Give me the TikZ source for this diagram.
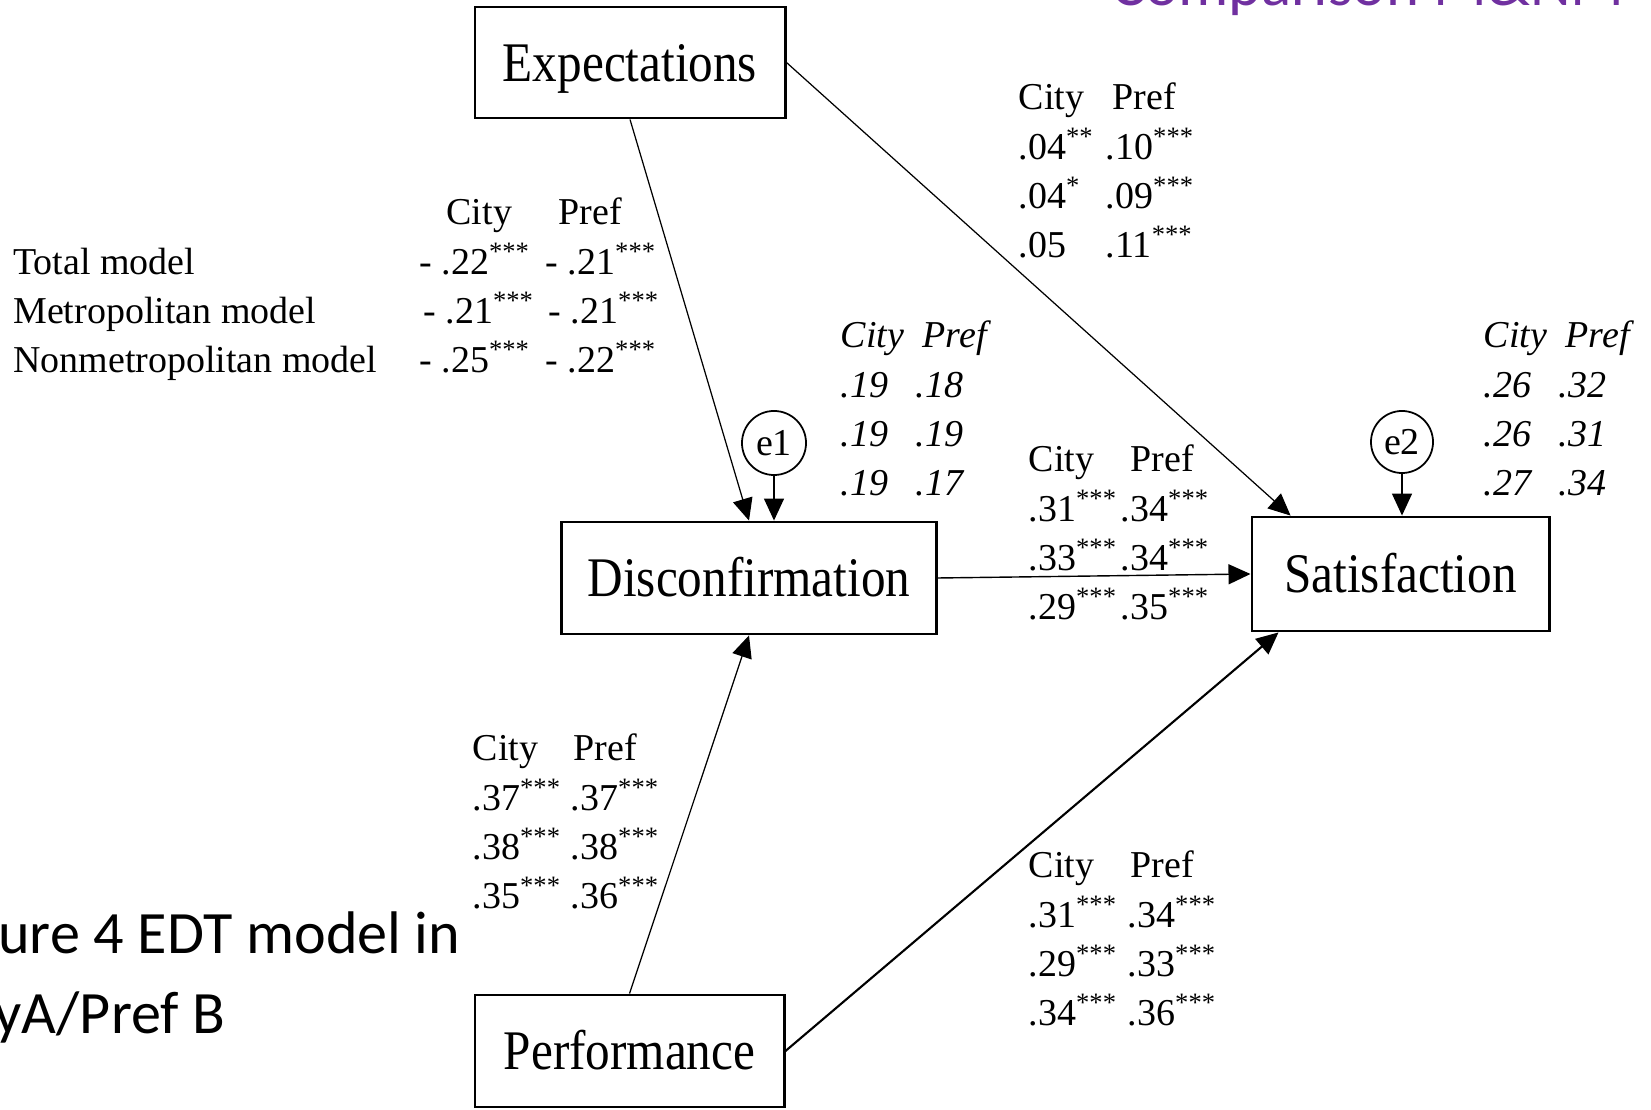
\documentclass[tikz,border=0pt]{standalone}
\usepackage{fontspec}
\setmainfont{Liberation Serif}
\newfontfamily\boxfont{Liberation Serif}[FakeStretch=0.88]
\newfontfamily\slidefont{Carlito}
\usepackage{array}
\usetikzlibrary{arrows.meta}
\definecolor{slidepurple}{HTML}{7030A0}
\newcommand{\lblfont}{\fontsize{10.8}{14}\selectfont}
\newcommand{\sig}[1]{\textsuperscript{#1}}

\begin{document}
\begin{tikzpicture}[
        x=0.01cm, y=-0.01cm,
        var/.style={draw, rectangle, line width=0.8pt, inner sep=0pt,
            text height=10.6pt, text depth=0pt,
            font=\boxfont\fontsize{15.9}{19}\selectfont},
        err/.style={draw, circle, line width=0.5pt, inner sep=0pt, font=\lblfont},
        arr/.style={-{Triangle[length=2.2mm, width=2mm]}, line width=0.4pt},
        coef/.style={anchor=base west, inner sep=0pt, font=\lblfont},
        coefit/.style={coef, font=\lblfont\itshape},
        slide/.style={anchor=base west, inner sep=0pt, font=\slidefont\fontsize{17.1}{22.8}\selectfont}
    ]
    \useasboundingbox (0,0) rectangle (1651,1110);
    \clip (0,0) rectangle (1651,1110);

    \node[slide, text=slidepurple, font=\slidefont\fontsize{17.9}{22}\selectfont] (title) at (1111,6) {Comparison M\&NM};
    \node[slide] (caption) at (-72,953) {\begin{tabular}[t]{@{}l@{}}Figure 4 EDT model in\\CityA/Pref B\end{tabular}};

    \node[var, minimum width=3.10cm, minimum height=1.11cm] (Exp) at (630,62.5) {Expectations};
    \node[var, minimum width=3.74cm, minimum height=1.12cm] (Disc) at (749,578) {Disconfirmation};
    \node[var, minimum width=2.97cm, minimum height=1.14cm] (Sat) at (1400.5,574) {Satisfaction};
    \node[var, minimum width=3.09cm, minimum height=1.12cm] (Perf) at (629.5,1051) {Performance};
    \node[err, minimum size=0.64cm] (e1) at (774,443) {e1};
    \node[err, minimum size=0.62cm] (e2) at (1402,442) {e2};

    \draw[arr, line width=0.35pt] (Exp.south) -- (Disc.north);
    \draw[arr, line width=0.35pt] (Exp.east) -- ([xshift=0.4cm]Sat.north west);
    \draw[arr] (Disc.east) -- (Sat.west);
    \draw[arr, line width=0.35pt] (Perf.north) -- (Disc.south);
    \draw[arr, line width=0.6pt] (Perf.east) -- ([xshift=0.28cm]Sat.south west);
    \draw[arr] (e1) -- (e1 |- Disc.north);
    \draw[arr] (e2) -- (e2 |- Sat.north);

    \node[coef] (coefED) at (12.6,225) {\begin{tabular}[t]{@{}p{4.06cm}@{}p{1.26cm}@{}l@{}}
        & \hspace*{0.27cm}City & \hspace*{0.13cm}Pref\\
        Total model & -~.22\sig{***} & -~.21\sig{***}\\
        Metropolitan model & \hspace*{0.04cm}-~.21\sig{***} & \hspace*{0.03cm}-~.21\sig{***}\\
        Nonmetropolitan model & -~.25\sig{***} & -~.22\sig{***}
    \end{tabular}};
    \node[coef] (coefES) at (1018,110) {\begin{tabular}[t]{@{}p{0.87cm}@{}l@{}}
        City & \hspace*{0.07cm}Pref\\
        .04\sig{**} & .10\sig{***}\\
        .04\sig{*} & .09\sig{***}\\
        .05 & .11\sig{***}
    \end{tabular}};
    \node[coefit] (rsqD) at (840,348) {\begin{tabular}[t]{@{}p{0.75cm}@{}l@{}}
        City & \hspace*{0.07cm}Pref\\
        .19 & .18\\
        .19 & .19\\
        .19 & .17
    \end{tabular}};
    \node[coef] (coefDS) at (1028,472) {\begin{tabular}[t]{@{}p{0.92cm}@{}l@{}}
        City & \hspace*{0.1cm}Pref\\
        .31\sig{***} & .34\sig{***}\\
        .33\sig{***} & .34\sig{***}\\
        .29\sig{***} & .35\sig{***}
    \end{tabular}};
    \node[coefit] (rsqS) at (1483,348) {\begin{tabular}[t]{@{}p{0.75cm}@{}l@{}}
        City & \hspace*{0.07cm}Pref\\
        .26 & .32\\
        .26 & .31\\
        .27 & .34
    \end{tabular}};
    \node[coef] (coefPD) at (472,761) {\begin{tabular}[t]{@{}p{0.98cm}@{}l@{}}
        City & \hspace*{0.03cm}Pref\\
        .37\sig{***} & .37\sig{***}\\
        .38\sig{***} & .38\sig{***}\\
        .35\sig{***} & .36\sig{***}
    \end{tabular}};
    \node[coef] (coefPS) at (1028,878) {\begin{tabular}[t]{@{}p{0.99cm}@{}l@{}}
        City & \hspace*{0.03cm}Pref\\
        .31\sig{***} & .34\sig{***}\\
        .29\sig{***} & .33\sig{***}\\
        .34\sig{***} & .36\sig{***}
    \end{tabular}};
\end{tikzpicture}
\end{document}
